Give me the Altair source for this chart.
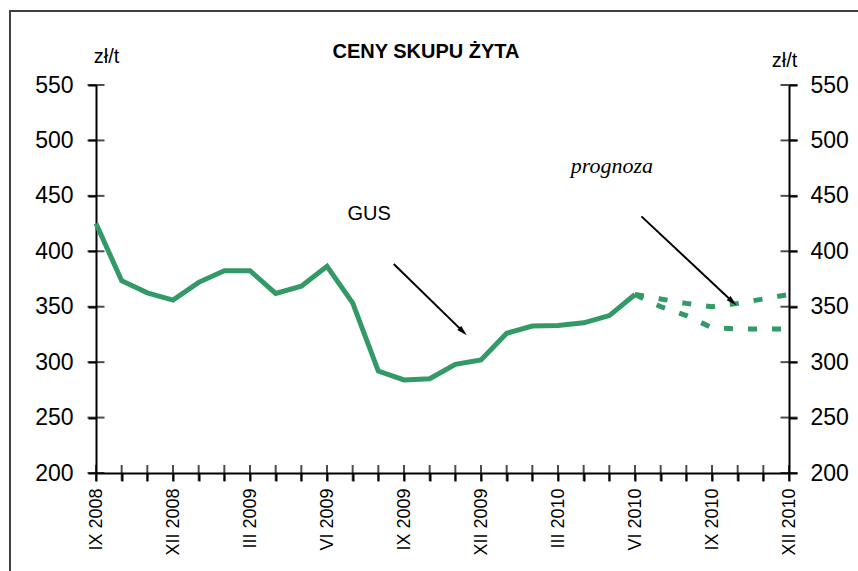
import altair as alt
import pandas as pd

# ---- data ----
months = ["IX 2008", "X 2008", "XI 2008", "XII 2008", "I 2009", "II 2009", "III 2009",
          "IV 2009", "V 2009", "VI 2009", "VII 2009", "VIII 2009", "IX 2009", "X 2009",
          "XI 2009", "XII 2009", "I 2010", "II 2010", "III 2010", "IV 2010", "V 2010",
          "VI 2010", "VII 2010", "VIII 2010", "IX 2010", "X 2010", "XI 2010", "XII 2010"]
actual = [425, 373.5, 362.5, 356, 372, 382.5, 382.5, 362, 368.5, 386.5, 353.5, 292,
          284, 285, 298, 302, 326, 332.5, 333, 335.5, 342, 361]
forecast_high = [361, 357, 353, 350, 353, 357, 361]
forecast_low = [361, 350, 342, 331, 330, 330, 330]
y_ticks = [200, 250, 300, 350, 400, 450, 500, 550]
label_step = 3

title_text = "CENY SKUPU ŻYTA"
unit = "zł/t"

# annotations (in data coordinates: month index, value)
ann_text = ["GUS", "prognoza"]
ann_x = [9.8, 20.1]
ann_y = [428, 470.5]
arrow_x = [11.6, 21.25]
arrow_y = [388.5, 431.5]
arrow_x2 = [14.3, 24.8]
arrow_y2 = [327.5, 354.5]
arrow_angle = [134, 132]

# ---- build tables ----
n_fc = len(forecast_high)
start = len(actual) - 1
df_act = pd.DataFrame({"i": list(range(len(actual))), "v": actual})
df_fc = pd.DataFrame({
    "i": list(range(start, start + n_fc)) * 2,
    "v": forecast_high + forecast_low,
    "s": ["high"] * n_fc + ["low"] * n_fc,
})
df_yt = pd.DataFrame({"v": y_ticks})
df_xt = pd.DataFrame({"i": list(range(len(months)))})
df_arrow = pd.DataFrame({"x": arrow_x, "y": arrow_y, "x2": arrow_x2, "y2": arrow_y2,
                         "a": arrow_angle})

shown = [m if k % label_step == 0 else "" for k, m in enumerate(months)]
label_expr = "[" + ",".join("'" + s + "'" for s in shown) + "][datum.value]"

W, H = 693, 388
FONT = "Liberation Sans"
GREEN = "#339966"

xscale = alt.Scale(domain=[0, len(months) - 1], nice=False, zero=False)
yscale = alt.Scale(domain=[200, 550], nice=False, zero=False)

def X(field, axis=None):
    return alt.X(field, type="quantitative", scale=xscale, axis=axis, title=None)

def Y(field, axis=None):
    return alt.Y(field, type="quantitative", scale=yscale, axis=axis, title=None)

x_axis = alt.Axis(values=list(range(len(months))), labelExpr=label_expr, labelAngle=-90,
                  labelFontSize=18, labelFont=FONT, labelColor="black", labelPadding=7,
                  tickSize=8, tickWidth=2, tickColor="black", domainColor="black",
                  domainWidth=2, grid=False, labelOverlap=False, labelFlush=False,
                  labelBound=False)
y_axis_left = alt.Axis(values=y_ticks, orient="left", labelFontSize=23, labelFont=FONT,
                       labelColor="black", labelPadding=15, tickSize=8, tickWidth=2,
                       tickColor="black", domainColor="black", domainWidth=2, grid=False,
                       title=unit, titleAngle=0, titleFont=FONT, titleFontSize=20,
                       titleFontWeight="normal", titleColor="black", titleAlign="center",
                       titleBaseline="alphabetic", titleX=10, titleY=-23,
                       labelFlush=False, labelOverlap=False)
y_axis_right = alt.Axis(values=y_ticks, orient="right", labelFontSize=23, labelFont=FONT,
                        labelColor="black", labelPadding=13, tickSize=8, tickWidth=2,
                        tickColor="black", domainColor="black", domainWidth=2, grid=False,
                        title=unit, titleAngle=0, titleFont=FONT, titleFontSize=20,
                        titleFontWeight="normal", titleColor="black", titleAlign="center",
                        titleBaseline="alphabetic", titleX=-5, titleY=-19,
                        labelFlush=False, labelOverlap=False)

one = pd.DataFrame({"a": [0]})

border = alt.Chart(one).mark_rect(fill=None, stroke="#404040", strokeWidth=2).encode(
    x=alt.value(-86), y=alt.value(-74), x2=alt.value(W + 80), y2=alt.value(H + 110))

left_ticks = alt.Chart(df_yt).mark_tick(orient="horizontal", size=17, thickness=2,
                                        color="black").encode(
    x=alt.value(0), y=alt.Y("v:Q", scale=yscale, axis=y_axis_left, title=unit))
right_ticks = alt.Chart(df_yt).mark_tick(orient="horizontal", size=17, thickness=2,
                                         color="black").encode(
    x=alt.value(W), y=alt.Y("v:Q", scale=yscale, axis=y_axis_right, title=unit))
bottom_ticks = alt.Chart(df_xt).mark_tick(orient="vertical", size=16, thickness=2,
                                          color="black").encode(
    x=alt.X("i:Q", scale=xscale, axis=x_axis, title=None), y=alt.value(H))

line_act = alt.Chart(df_act).mark_line(color=GREEN, strokeWidth=5).encode(
    x=X("i"), y=Y("v"))
line_fc = alt.Chart(df_fc).mark_line(color=GREEN, strokeWidth=5, strokeDash=[9, 15],
                                     strokeCap="butt").encode(
    x=X("i"), y=Y("v"), detail="s:N")

arrows = alt.Chart(df_arrow).mark_rule(color="black", strokeWidth=2).encode(
    x=X("x"), y=Y("y"), x2="x2", y2="y2")
heads = alt.Chart(df_arrow).mark_point(shape="M0,-1L0.55,1L-0.55,1Z", filled=True,
                                       color="black", opacity=1, size=110).encode(
    x=X("x2"), y=Y("y2"), angle=alt.Angle("a:Q", scale=None))

df_ann = pd.DataFrame({"t": ann_text, "x": ann_x, "y": ann_y})
gus = alt.Chart(df_ann.iloc[[0]]).mark_text(font=FONT, fontSize=20, align="left",
                                            baseline="alphabetic", color="black").encode(
    x=X("x"), y=Y("y"), text="t:N")
prog = alt.Chart(df_ann.iloc[[1]]).mark_text(font="Liberation Serif", fontSize=22,
                                             fontStyle="italic", align="center",
                                             baseline="alphabetic", color="black").encode(
    x=X("x"), y=Y("y"), text="t:N")

title = alt.Chart(one).mark_text(text=title_text, font=FONT, fontSize=20, fontWeight="bold",
                                 align="center", baseline="alphabetic", color="black").encode(
    x=alt.value(330), y=alt.value(-27))

chart = alt.layer(
    border, line_act, line_fc, arrows, heads, gus, prog, title,
    left_ticks, right_ticks, bottom_ticks
).resolve_axis(y="independent", x="independent").properties(
    width=W, height=H,
    autosize=alt.AutoSizeParams(type="none"),
    padding={"left": 96, "top": 85, "right": 69, "bottom": 98},
    background="white",
).configure_view(stroke=None)

chart.save("out.html", embed_options={"renderer": "svg", "actions": False})
